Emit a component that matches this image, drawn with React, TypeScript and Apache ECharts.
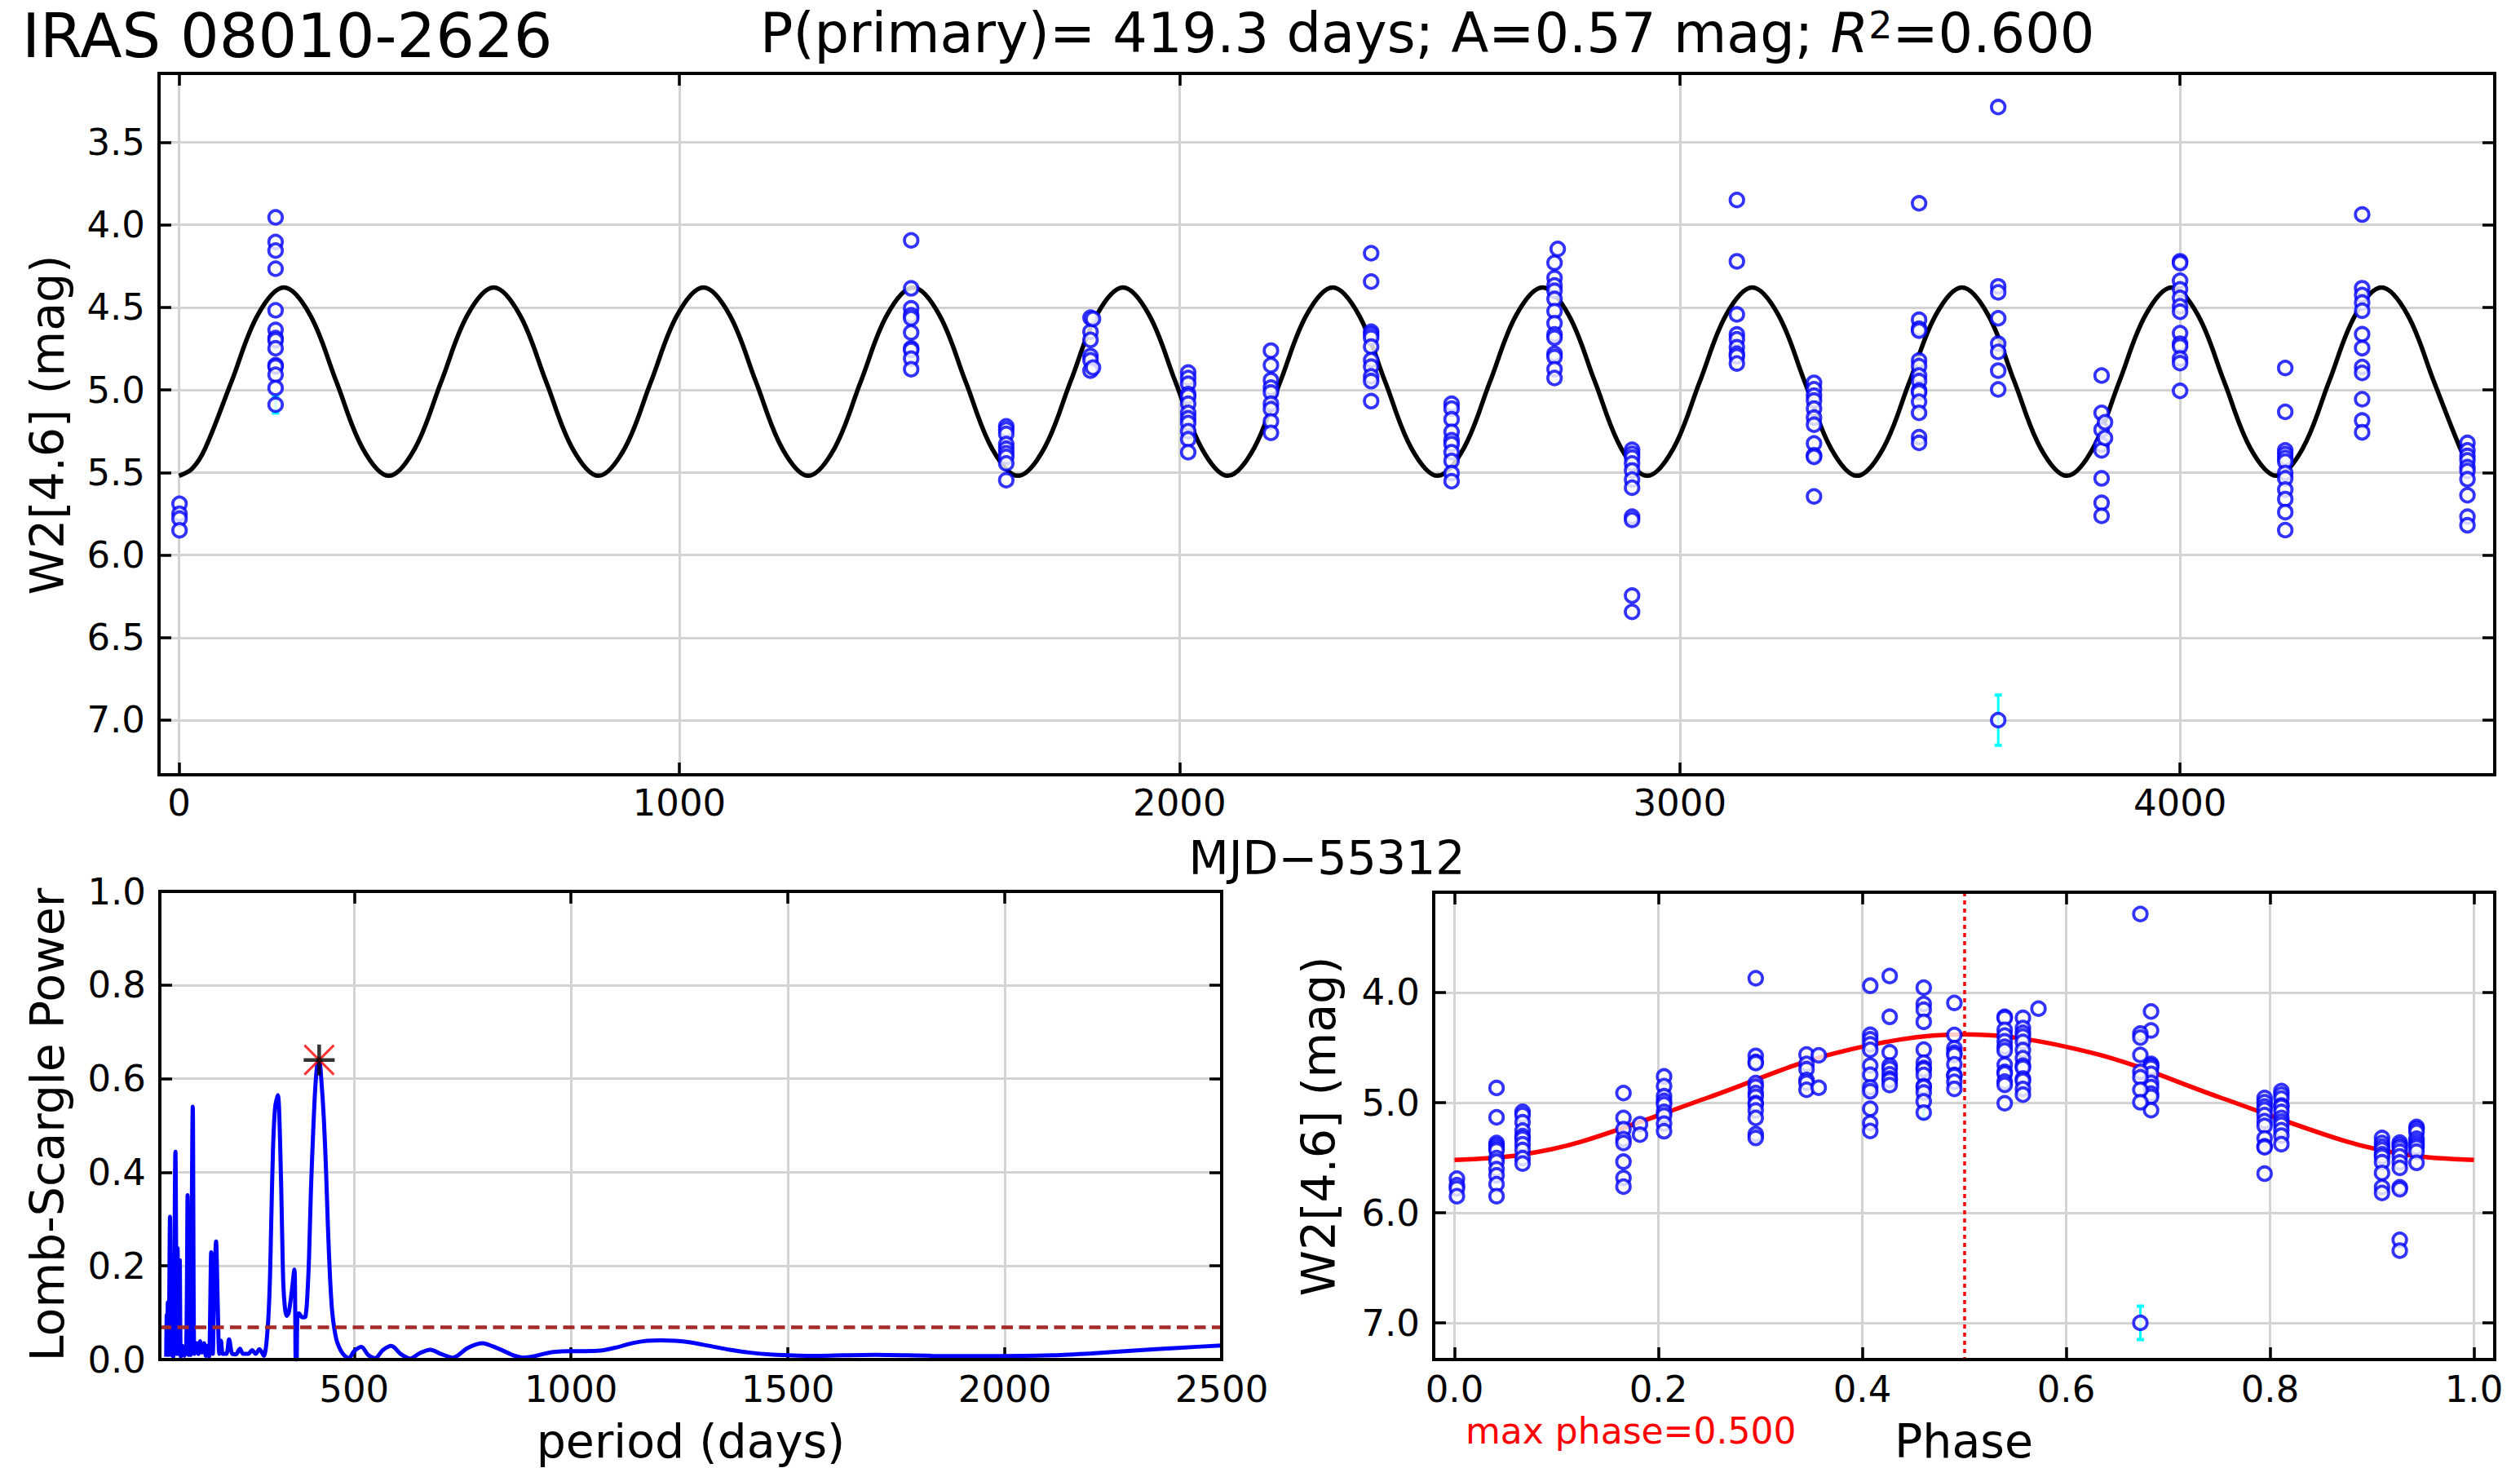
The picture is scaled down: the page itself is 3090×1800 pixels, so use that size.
import React, { useEffect, useRef } from "react";
import * as echarts from "echarts";

const FONT = "DejaVu Sans";

// ---- fit parameters (from the title) ----
const PERIOD = 419.3;
const PEAK_PERIOD = 419.3;
const PEAK_POWER = 0.64;
const FAP_LEVEL = 0.073;
const MAX_PHASE = 0.5;

// ---- observations: visit epochs (MJD-55312) and the W2 magnitudes of each visit ----
const visitMJD = [
  1, 193, 1463.5, 1653.6, 1822, 1827, 2017.3, 2182.7, 2383, 2543.8, 2749.6, 2756,
  2904.6, 3114.1, 3268.3, 3478.3, 3636.5, 3843.2, 3850, 4000, 4210.3, 4364, 4574.5,
];
const visitMags = [
  [5.69, 5.75, 5.78, 5.85],
  [3.955, 4.104, 4.156, 4.266, 4.518, 4.637, 4.686, 4.699, 4.748, 4.85, 4.859, 4.908, 4.988, 5.09],
  [4.094, 4.385, 4.506, 4.547, 4.566, 4.652, 4.748, 4.758, 4.811, 4.875],
  [5.221, 5.24, 5.266, 5.328, 5.357, 5.383, 5.406, 5.445, 5.547],
  [4.563, 4.648, 4.697, 4.795, 4.82, 4.883],
  [4.57, 4.865],
  [4.895, 4.928, 4.963, 5.025, 5.039, 5.084, 5.139, 5.172, 5.201, 5.25, 5.299, 5.377],
  [4.762, 4.85, 4.941, 4.986, 5.016, 5.084, 5.117, 5.191, 5.26],
  [4.172, 4.344, 4.648, 4.664, 4.684, 4.738, 4.82, 4.859, 4.918, 4.947, 5.068],
  [5.084, 5.113, 5.178, 5.254, 5.305, 5.328, 5.377, 5.43, 5.504, 5.553],
  [4.23, 4.322, 4.367, 4.4, 4.449, 4.523, 4.596, 4.664, 4.684, 4.781, 4.801, 4.875, 4.928],
  [4.146],
  [5.363, 5.387, 5.41, 5.445, 5.488, 5.543, 5.592, 5.768, 5.787, 6.246, 6.344],
  [3.85, 4.221, 4.543, 4.664, 4.693, 4.742, 4.781, 4.797, 4.84],
  [4.957, 4.996, 5.035, 5.064, 5.113, 5.168, 5.211, 5.324, 5.396, 5.406, 5.645],
  [3.87, 4.575, 4.629, 4.641, 4.822, 4.856, 4.913, 4.947, 5.003, 5.015, 5.071, 5.139, 5.286, 5.321],
  [3.287, 4.373, 4.409, 4.566, 4.72, 4.77, 4.883, 4.997, 7.0],
  [4.913, 5.139, 5.241, 5.332, 5.366, 5.536, 5.684, 5.763],
  [5.196, 5.291],
  [4.221, 4.232, 4.339, 4.391, 4.443, 4.493, 4.527, 4.656, 4.72, 4.737, 4.81, 4.838, 5.006],
  [4.867, 5.133, 5.366, 5.389, 5.412, 5.434, 5.503, 5.536, 5.604, 5.661, 5.74, 5.849],
  [3.938, 4.384, 4.425, 4.471, 4.52, 4.663, 4.747, 4.861, 4.897, 5.056, 5.185, 5.257],
  [5.321, 5.366, 5.4, 5.427, 5.468, 5.491, 5.541, 5.638, 5.768, 5.82],
];

// ---- visible error bars ----
const errMJD = [193, 3636.5];
const errMag = [5.09, 7.0];
const errSigma = [0.05, 0.152];

// ---- fitted model curve ----
const modelMJD = [
  0, 26.2, 52.4, 104.8, 157.2, 209.7, 262.1, 314.5, 366.9,
  419.3, 471.7, 524.1, 576.5, 629.0, 681.4, 733.8, 786.2,
  838.6, 891.0, 943.4, 995.8, 1048.3, 1100.7, 1153.1, 1205.5,
  1257.9, 1310.3, 1362.7, 1415.1, 1467.6, 1520.0, 1572.4, 1624.8,
  1677.2, 1729.6, 1782.0, 1834.4, 1886.9, 1939.3, 1991.7, 2044.1,
  2096.5, 2148.9, 2201.3, 2253.7, 2306.2, 2358.6, 2411.0, 2463.4,
  2515.8, 2568.2, 2620.6, 2673.0, 2725.5, 2777.9, 2830.3, 2882.7,
  2935.1, 2987.5, 3039.9, 3092.3, 3144.8, 3197.2, 3249.6, 3302.0,
  3354.4, 3406.8, 3459.2, 3511.6, 3564.1, 3616.5, 3668.9, 3721.3,
  3773.7, 3826.1, 3878.5, 3930.9, 3983.4, 4035.8, 4088.2, 4140.6,
  4193.0, 4245.4, 4297.8, 4350.2, 4402.7, 4455.1, 4507.5, 4559.9,
  4575.0,
];
const modelMag = [
  5.52, 5.477, 5.353, 4.95, 4.547, 4.38, 4.547, 4.95, 5.353,
  5.52, 5.353, 4.95, 4.547, 4.38, 4.547, 4.95, 5.353,
  5.52, 5.353, 4.95, 4.547, 4.38, 4.547, 4.95, 5.353,
  5.52, 5.353, 4.95, 4.547, 4.38, 4.547, 4.95, 5.353,
  5.52, 5.353, 4.95, 4.547, 4.38, 4.547, 4.95, 5.353,
  5.52, 5.353, 4.95, 4.547, 4.38, 4.547, 4.95, 5.353,
  5.52, 5.353, 4.95, 4.547, 4.38, 4.547, 4.95, 5.353,
  5.52, 5.353, 4.95, 4.547, 4.38, 4.547, 4.95, 5.353,
  5.52, 5.353, 4.95, 4.547, 4.38, 4.547, 4.95, 5.353,
  5.52, 5.353, 4.95, 4.547, 4.38, 4.547, 4.95, 5.353,
  5.52, 5.353, 4.95, 4.547, 4.38, 4.547, 4.95, 5.353,
  5.432,
];
const modelPhase = [0, 0.0625, 0.125, 0.25, 0.375, 0.5, 0.625, 0.75, 0.875, 0.9375, 1.0];
const modelPhaseMag = [5.52, 5.477, 5.353, 4.95, 4.547, 4.38, 4.547, 4.95, 5.353, 5.477, 5.52];

// ---- Lomb-Scargle periodogram ----
const lsPeriod = [
  66.6, 67.9, 68.8, 70.4, 72.3, 75.4, 77.9, 80.4, 82.9, 87.9, 91.0, 92.9, 95.4, 97.9, 100.4,
  104.1, 108.5, 112.9, 116.0, 118.0, 119.7, 122.8, 127.9, 131.6, 136.6, 141.0, 144.8, 149.1,
  154.1, 157.9, 161.6, 165.4, 170.4, 174.1, 177.9, 181.6, 185.4, 189.1, 192.9, 197.3, 205.4,
  211.6, 219.1, 227.3, 236.6, 244.1, 255.4, 264.7, 272.9, 281.6, 291.6, 300.4, 305.4, 308.5,
  312.9, 317.9, 324.1, 329.1, 333.5, 336.6, 340.4, 344.1, 349.1, 355.4, 362.2, 364.1, 365.3,
  367.2, 369.1, 372.8, 380.3, 387.8, 392.8, 396.0, 400.3, 405.3, 410.3, 415.0, 419.3, 424.1,
  430.3, 435.3, 439.7, 444.1, 449.1, 455.3, 461.6, 474.1, 487.8, 500.0, 516.8, 532.0, 548.5,
  566.0, 585.8, 607.0, 628.7, 652.0, 675.4, 700.0, 727.6, 762.0, 796.6, 820.0, 843.3, 870.0,
  889.9, 915.0, 936.6, 960.0, 992.5, 1030.0, 1067.2, 1105.0, 1141.8, 1175.0, 1207.1, 1240.0,
  1272.4, 1320.0, 1365.7, 1410.0, 1459.0, 1552.2, 1701.5, 1832.0, 2000.0, 2112.0, 2200.0,
  2298.5, 2400.0, 2500.0,
];
const lsPower = [
  0.006, 0.096, 0.01, 0.122, 0.01, 0.305, 0.01, 0.07, 0.006, 0.444, 0.012, 0.238, 0.012, 0.212, 0.006,
  0.029, 0.008, 0.029, 0.351, 0.01, 0.3, 0.01, 0.54, 0.012, 0.035, 0.012, 0.039, 0.015,
  0.035, 0.008, 0.029, 0.006, 0.229, 0.012, 0.174, 0.252, 0.122, 0.012, 0.04, 0.012, 0.012,
  0.043, 0.012, 0.011, 0.023, 0.012, 0.012, 0.02, 0.012, 0.022, 0.008, 0.064, 0.16, 0.279,
  0.45, 0.54, 0.565, 0.47, 0.29, 0.163, 0.11, 0.093, 0.1, 0.14, 0.192, 0.1, 0.0,
  0.0, 0.09, 0.099, 0.09, 0.092, 0.15, 0.22, 0.36, 0.482, 0.58, 0.63, 0.64, 0.6,
  0.511, 0.4, 0.279, 0.18, 0.104, 0.06, 0.035, 0.012, 0.003, 0.018, 0.027, 0.01, 0.003,
  0.02, 0.029, 0.012, 0.002, 0.014, 0.021, 0.012, 0.004, 0.025, 0.035, 0.028, 0.019, 0.008,
  0.004, 0.007, 0.012, 0.016, 0.018, 0.018, 0.019, 0.026, 0.035, 0.04, 0.041, 0.04,
  0.037, 0.029, 0.021, 0.015, 0.011, 0.008, 0.01, 0.008, 0.0075, 0.009, 0.013,
  0.019, 0.025, 0.03,
];

// ---- tick values ----
const TOP_X_TICKS = [0, 1000, 2000, 3000, 4000];
const TOP_Y_TICKS = [3.5, 4.0, 4.5, 5.0, 5.5, 6.0, 6.5, 7.0];
const LS_X_TICKS = [500, 1000, 1500, 2000, 2500];
const LS_Y_TICKS = [0, 0.2, 0.4, 0.6, 0.8, 1.0];
const PH_X_TICKS = [0, 0.2, 0.4, 0.6, 0.8, 1.0];
const PH_Y_TICKS = [4, 5, 6, 7];

// ---- layout ----
const G_TOP = { left: 195, top: 90, width: 2864, height: 860 };
const G_LS = { left: 196, top: 1093, width: 1302, height: 574 };
const G_PH = { left: 1758, top: 1094, width: 1301, height: 573 };

const fmtInt = (v: number) => String(Math.round(v));
const fmt1 = (v: number) => Number(v).toFixed(1);

function tickStyle(ticks: number[]) {
  return { show: true, inside: true, length: 15, lineStyle: { color: "#000", width: 3.5 }, customValues: ticks };
}

function makeX(gi: number, min: number, max: number, ticks: number[], fmt: (v: number) => string, margin: number) {
  return [
    {
      type: "value", gridIndex: gi, position: "bottom", min, max,
      axisLine: { show: false, onZero: false },
      axisTick: tickStyle(ticks),
      axisLabel: {
        show: true, customValues: ticks, formatter: fmt, margin,
        fontFamily: FONT, fontSize: 45, color: "#000", showMinLabel: true, showMaxLabel: true,
      },
      splitLine: { show: true, lineStyle: { color: "#d3d3d3", width: 3 } },
    },
    {
      type: "value", gridIndex: gi, position: "top", min, max,
      axisLine: { show: false, onZero: false },
      axisTick: tickStyle(ticks),
      axisLabel: { show: false },
      splitLine: { show: false },
    },
  ];
}

function makeY(gi: number, min: number, max: number, ticks: number[], fmt: (v: number) => string, inverse: boolean) {
  return [
    {
      type: "value", gridIndex: gi, position: "left", min, max, inverse,
      axisLine: { show: false, onZero: false },
      axisTick: tickStyle(ticks),
      axisLabel: {
        show: true, customValues: ticks, formatter: fmt, margin: 17,
        fontFamily: FONT, fontSize: 45, color: "#000", showMinLabel: true, showMaxLabel: true,
      },
      splitLine: { show: true, lineStyle: { color: "#d3d3d3", width: 3 } },
    },
    {
      type: "value", gridIndex: gi, position: "right", min, max, inverse,
      axisLine: { show: false, onZero: false },
      axisTick: tickStyle(ticks),
      axisLabel: { show: false },
      splitLine: { show: false },
    },
  ];
}

function errRender(params: any, api: any) {
  const x = api.value(0);
  const y = api.value(1);
  const e = api.value(2);
  const p1 = api.coord([x, y - e]);
  const p2 = api.coord([x, y + e]);
  const cap = 4.5;
  const st = { stroke: "#00ffff", lineWidth: 3 };
  const cs = { stroke: "#00ffff", lineWidth: 4 };
  return {
    type: "group",
    children: [
      { type: "line", shape: { x1: p1[0], y1: p1[1], x2: p2[0], y2: p2[1] }, style: st },
      { type: "line", shape: { x1: p1[0] - cap, y1: p1[1], x2: p1[0] + cap, y2: p1[1] }, style: cs },
      { type: "line", shape: { x1: p2[0] - cap, y1: p2[1], x2: p2[0] + cap, y2: p2[1] }, style: cs },
    ],
  };
}

function frame(g: { left: number; top: number; width: number; height: number }) {
  return {
    type: "rect", silent: true, z: 100,
    shape: { x: g.left, y: g.top, width: g.width, height: g.height },
    style: { fill: "none", stroke: "#000", lineWidth: 4 },
  };
}

function label(text: string, x: number, y: number, size: number, rotate = false, color = "#000", align = "center") {
  return {
    type: "text", silent: true, z: 100, x, y, rotation: rotate ? Math.PI / 2 : 0,
    style: { text, fontSize: size, fontFamily: FONT, fill: color, align, verticalAlign: "middle" },
  };
}

function buildOption() {
  const obs: number[][] = [];
  visitMJD.forEach((t, i) => visitMags[i].forEach((m) => obs.push([t, m])));
  const obsPhase = obs.map(([t, m]) => [(t / PERIOD) % 1, m]);
  const errTop = errMJD.map((t, i) => [t, errMag[i], errSigma[i]]);
  const errPh = errMJD.map((t, i) => [(t / PERIOD) % 1, errMag[i], errSigma[i]]);

  const pointStyle = {
    symbol: "circle", symbolSize: 16.5,
    itemStyle: { color: "#ffffff", borderColor: "#0000ff", borderWidth: 3.8 },
  };

  return {
    animation: false,
    backgroundColor: "#ffffff",
    textStyle: { fontFamily: FONT },
    grid: [
      { ...G_TOP, containLabel: false },
      { ...G_LS, containLabel: false },
      { ...G_PH, containLabel: false },
    ],
    xAxis: [
      ...makeX(0, -40, 4629, TOP_X_TICKS, fmtInt, 12),
      ...makeX(1, 52, 2500, LS_X_TICKS, fmtInt, 14),
      ...makeX(2, -0.0204, 1.0204, PH_X_TICKS, fmt1, 14),
    ],
    yAxis: [
      ...makeY(0, 3.083, 7.331, TOP_Y_TICKS, fmt1, true),
      ...makeY(1, 0, 1, LS_Y_TICKS, fmt1, false),
      ...makeY(2, 3.089, 7.333, PH_Y_TICKS, fmt1, true),
    ],
    series: [
      {
        type: "line", xAxisIndex: 0, yAxisIndex: 0, z: 2,
        data: modelMJD.map((t, i) => [t, modelMag[i]]),
        showSymbol: false, smooth: 0.35,
        lineStyle: { color: "#000", width: 5.5 },
      },
      {
        type: "custom", xAxisIndex: 0, yAxisIndex: 0, z: 3,
        data: errTop, encode: { x: 0, y: 1 }, renderItem: errRender,
      },
      { type: "scatter", xAxisIndex: 0, yAxisIndex: 0, z: 4, data: obs, ...pointStyle },

      {
        type: "line", xAxisIndex: 2, yAxisIndex: 2, z: 3,
        data: lsPeriod.map((p, i) => [p, lsPower[i]]),
        showSymbol: false, smooth: 0.3,
        lineStyle: { color: "#0000ff", width: 5 },
        markLine: {
          silent: true, symbol: "none", label: { show: false }, animation: false,
          lineStyle: { color: "#a52a2a", width: 4.5, type: [14, 7.5] },
          data: [{ yAxis: FAP_LEVEL }],
        },
      },
      {
        type: "scatter", xAxisIndex: 2, yAxisIndex: 2, z: 5,
        data: [[PEAK_PERIOD, PEAK_POWER]],
        symbol: "path://M0 0L10 10M10 0L0 10", symbolSize: 36,
        itemStyle: { color: "rgba(0,0,0,0)", borderColor: "#ff0000", borderWidth: 3 },
      },
      {
        type: "scatter", xAxisIndex: 2, yAxisIndex: 2, z: 6,
        data: [[PEAK_PERIOD, PEAK_POWER]],
        symbol: "path://M5 0L5 10M0 5L10 5", symbolSize: 38,
        itemStyle: { color: "rgba(0,0,0,0)", borderColor: "#000000", borderWidth: 4.5 },
      },

      {
        type: "line", xAxisIndex: 4, yAxisIndex: 4, z: 2,
        data: modelPhase.map((p, i) => [p, modelPhaseMag[i]]),
        showSymbol: false, smooth: 0.35,
        lineStyle: { color: "#ff0000", width: 5.5 },
        markLine: {
          silent: true, symbol: "none", label: { show: false }, animation: false,
          lineStyle: { color: "#ff0000", width: 3.5, type: [5, 5] },
          data: [{ xAxis: MAX_PHASE }],
        },
      },
      {
        type: "custom", xAxisIndex: 4, yAxisIndex: 4, z: 3,
        data: errPh, encode: { x: 0, y: 1 }, renderItem: errRender,
      },
      { type: "scatter", xAxisIndex: 4, yAxisIndex: 4, z: 4, data: obsPhase, ...pointStyle },
    ],
    graphic: [
      frame(G_TOP),
      frame(G_LS),
      frame(G_PH),
      label("IRAS 08010-2626", 27, 44, 75, false, "#000", "left"),
      {
        type: "text", silent: true, z: 100, x: 932, y: 41,
        style: {
          text: "{n|P(primary)= 419.3 days; A=0.57 mag; }{i|R}{s|2}{n|=0.600}",
          align: "left", verticalAlign: "middle",
          rich: {
            n: { fontSize: 67, fontFamily: FONT, fill: "#000" },
            i: { fontSize: 67, fontFamily: FONT, fontStyle: "italic", fill: "#000" },
            s: { fontSize: 46, fontFamily: FONT, fill: "#000", verticalAlign: "top" },
          },
        },
      },
      label("W2[4.6] (mag)", 58, 521, 57, true),
      label("MJD\u221255312", 1627, 1052, 57),
      label("Lomb-Scargle Power", 58, 1379, 57, true),
      label("period (days)", 847, 1767, 57),
      label("W2[4.6] (mag)", 1617, 1381, 57, true),
      label("Phase", 2408, 1767, 57),
      label("max phase=0.500", 1797, 1754, 44, false, "#ff0000", "left"),
    ],
  };
}

export default function App() {
  const ref = useRef<HTMLDivElement>(null);
  useEffect(() => {
    if (!ref.current) return;
    const chart = echarts.init(ref.current, null, { renderer: "svg" });
    chart.setOption(buildOption() as any);
    return () => chart.dispose();
  }, []);
  return (
    <div
      ref={ref}
      style={{ position: "absolute", left: 0, top: 0, width: 3090, height: 1800, background: "#fff" }}
    />
  );
}
